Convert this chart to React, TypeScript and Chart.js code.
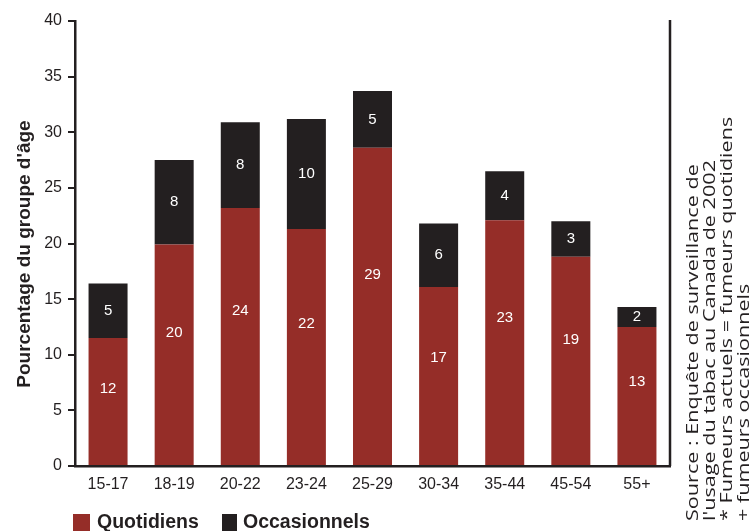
import { useEffect, useRef } from "react";
import { Chart, registerables } from "chart.js";

Chart.register(...registerables);

const categories = ["15-17", "18-19", "20-22", "23-24", "25-29", "30-34", "35-44", "45-54", "55+"];
const quotidiens = [11.5, 19.9, 23.2, 21.3, 28.6, 16.1, 22.1, 18.8, 12.5];
const occasionnels = [4.9, 7.6, 7.7, 9.9, 5.1, 5.7, 4.4, 3.2, 1.8];
const quotidiensLabels = ["12", "20", "24", "22", "29", "17", "23", "19", "13"];
const occasionnelsLabels = ["5", "8", "8", "10", "5", "6", "4", "3", "2"];
const seriesNames = ["Quotidiens", "Occasionnels"];
const yMax = 40;
const yStep = 5;
const yTitle = "Pourcentage du groupe d'âge";
const noteLines = [
  "Source : Enquête de surveillance de",
  "l'usage du tabac au Canada de 2002",
  "* Fumeurs actuels = fumeurs quotidiens",
  "+ fumeurs occasionnels",
];

const RED = "#952d28";
const BLACK = "#231f20";
const SANS = "'Liberation Sans', Arial, sans-serif";

const decorPlugin = {
  id: "decor",
  afterDatasetsDraw(chart: any) {
    const ctx = chart.ctx;
    const labelSets = [quotidiensLabels, occasionnelsLabels];
    ctx.save();
    ctx.fillStyle = "#ffffff";
    ctx.font = `15px ${SANS}`;
    ctx.textAlign = "center";
    ctx.textBaseline = "middle";
    chart.data.datasets.forEach((_: any, di: number) => {
      const meta = chart.getDatasetMeta(di);
      meta.data.forEach((bar: any, i: number) => {
        const top = bar.y;
        const bottom = bar.base;
        const frac = di === 0 ? 0.4 : 0.5;
        ctx.fillText(labelSets[di][i], bar.x, top + (bottom - top) * frac);
      });
    });
    ctx.restore();
  },
  afterDraw(chart: any) {
    const ctx = chart.ctx;
    const area = chart.chartArea;
    ctx.save();
    // right frame line
    ctx.strokeStyle = BLACK;
    ctx.lineWidth = 2.5;
    ctx.beginPath();
    ctx.moveTo(area.right, area.top - 1);
    ctx.lineTo(area.right, area.bottom);
    ctx.stroke();

    // y axis title
    ctx.fillStyle = BLACK;
    ctx.font = `bold 19px ${SANS}`;
    ctx.textAlign = "center";
    ctx.textBaseline = "middle";
    ctx.save();
    ctx.translate(25, 254);
    ctx.rotate(-Math.PI / 2);
    ctx.fillText(yTitle, 0, 0);
    ctx.restore();

    // rotated note
    ctx.font = `17px 'Open Sans', Lato, sans-serif`;
    ctx.textAlign = "left";
    ctx.textBaseline = "alphabetic";
    const measured =
      ctx.measureText(noteLines[0]).width +
      ctx.measureText(noteLines[1]).width +
      ctx.measureText(noteLines[2]).width;
    const stretch = 1122 / measured;
    noteLines.forEach((line, i) => {
      ctx.save();
      ctx.translate(698 + i * 17, 521);
      ctx.rotate(-Math.PI / 2);
      ctx.scale(stretch, 1);
      ctx.fillText(line, 0, 0);
      ctx.restore();
    });

    // legend
    const colors = [RED, BLACK];
    const boxX = [73, 222];
    const textX = [97, 243];
    ctx.font = `bold 19.5px ${SANS}`;
    seriesNames.forEach((name, i) => {
      ctx.fillStyle = colors[i];
      ctx.fillRect(boxX[i], 514, i === 0 ? 17 : 15, 17);
      ctx.fillStyle = BLACK;
      ctx.fillText(name, textX[i], 528);
    });
    ctx.restore();
  },
};

export default function App() {
  const ref = useRef<HTMLCanvasElement>(null);
  useEffect(() => {
    if (!ref.current) return;
    const chart = new Chart(ref.current, {
      type: "bar",
      data: {
        labels: categories,
        datasets: [
          { label: seriesNames[0], data: quotidiens, backgroundColor: RED, borderWidth: 0 },
          { label: seriesNames[1], data: occasionnels, backgroundColor: BLACK, borderWidth: 0 },
        ],
      },
      options: {
        animation: false,
        responsive: true,
        maintainAspectRatio: false,
        layout: { padding: { top: 21, right: 83, left: 0, bottom: 0 } },
        datasets: { bar: { barPercentage: 0.59, categoryPercentage: 1 } },
        plugins: { legend: { display: false }, tooltip: { enabled: false } },
        scales: {
          x: {
            stacked: true,
            grid: { display: false, drawTicks: false },
            border: { display: true, color: BLACK, width: 2.5 },
            ticks: { color: BLACK, font: { size: 16, family: SANS }, padding: 9, maxRotation: 0 },
            afterFit: (s: any) => {
              s.height = 65;
            },
          },
          y: {
            stacked: true,
            min: 0,
            max: yMax,
            grid: { drawOnChartArea: false, drawTicks: true, tickLength: 7, color: BLACK, lineWidth: 2 },
            border: { display: true, color: BLACK, width: 2.5 },
            ticks: { stepSize: yStep, color: BLACK, font: { size: 16, family: SANS }, padding: 6 },
            afterFit: (s: any) => {
              s.width = 75;
            },
          },
        },
      },
      plugins: [decorPlugin],
    });
    return () => chart.destroy();
  }, []);
  return (
    <div style={{ position: "fixed", left: 0, top: 0, width: 753, height: 531, background: "#fff" }}>
      <canvas ref={ref} />
    </div>
  );
}
